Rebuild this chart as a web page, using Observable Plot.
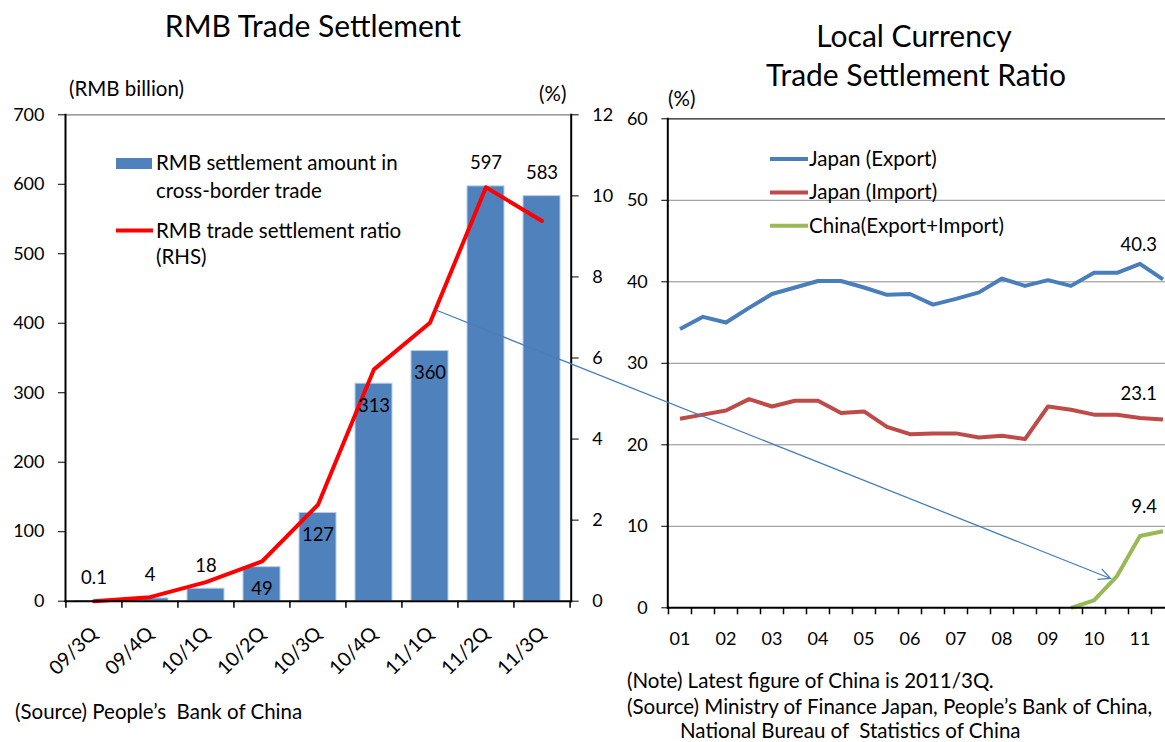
<!DOCTYPE html>
<html><head><meta charset="utf-8">
<script src="https://cdn.jsdelivr.net/npm/d3@7"></script>
<script src="https://cdn.jsdelivr.net/npm/@observablehq/plot@0.6"></script>
<style>
html,body{margin:0;padding:0;background:#fff;overflow:hidden}
#wrap{position:relative;width:1165px;height:742px;overflow:hidden;font-family:Lato,'Open Sans',sans-serif}
#wrap > svg{position:absolute;top:0}
#wrap text{white-space:pre}
</style></head><body><div id="wrap"></div>
<script>
// ---------- data: left panel ----------
const quarters = ["09/3Q","09/4Q","10/1Q","10/2Q","10/3Q","10/4Q","11/1Q","11/2Q","11/3Q"];
const amounts  = [0.1, 4, 18, 49, 127, 313, 360, 597, 583];          // RMB billion
const ratios   = [0.0, 0.1, 0.47, 0.98, 2.38, 5.72, 6.87, 10.21, 9.38]; // % (RHS)
const amountTicks = [0,100,200,300,400,500,600,700];
const ratioTicks  = [0,2,4,6,8,10,12];

// ---------- data: right panel ----------
const halfYears = ["2001H1","2001H2","2002H1","2002H2","2003H1","2003H2","2004H1","2004H2",
  "2005H1","2005H2","2006H1","2006H2","2007H1","2007H2","2008H1","2008H2",
  "2009H1","2009H2","2010H1","2010H2","2011H1","2011H2"];
const yearTicks  = ["2001H1","2002H1","2003H1","2004H1","2005H1","2006H1","2007H1","2008H1","2009H1","2010H1","2011H1"];
const yearLabels = ["01","02","03","04","05","06","07","08","09","10","11"];
const japanExport = [34.2,35.7,35.0,36.8,38.5,39.3,40.1,40.1,39.3,38.4,38.5,37.2,37.9,38.7,40.4,39.5,40.2,39.5,41.1,41.1,42.2,40.3];
const japanImport = [23.2,23.7,24.2,25.6,24.7,25.4,25.4,23.9,24.1,22.2,21.3,21.4,21.4,20.9,21.1,20.7,24.7,24.3,23.7,23.7,23.3,23.1];
const chinaTotal  = [null,null,null,null,null,null,null,null,null,null,null,null,null,null,null,null,null,0.0,0.9,3.9,8.8,9.4];
const pctTicks = [0,10,20,30,40,50,60];
const seriesNames = ["Japan (Export)","Japan (Import)","China(Export+Import)"];

// ---------- build ----------
const FONT = "Lato, 'Open Sans', sans-serif";
const TXT = 20.5; // word text size
const wrap = document.getElementById("wrap");
const k = 700 / 12; // RHS -> LHS units

const barData = quarters.map((q, i) => ({q, amount: amounts[i], ratio: ratios[i]}));
const L = {w: 640, h: 690, ml: 65, mr: 69.3, mt: 114.3, mb: 89.3};
const lStep = (L.w - L.ml - L.mr) / quarters.length;
const inside = d => d.amount >= 40 && d.amount < 400;

const left = Plot.plot({
  width: L.w, height: L.h,
  marginLeft: L.ml, marginRight: L.mr, marginTop: L.mt, marginBottom: L.mb,
  style: {fontFamily: FONT, fontSize: "18px", background: "transparent", color: "#000", overflow: "visible"},
  x: {type: "band", domain: quarters, paddingInner: 0.34, paddingOuter: 0.17, label: null},
  y: {domain: [0, 700], label: null},
  marks: [
    Plot.ruleY([700], {stroke: "#7f7f7f", strokeWidth: 1.2}),
    Plot.barY(barData, {x: "q", y: "amount", fill: "#4F81BD", stroke: "#B9CDE5", strokeWidth: 1}),
    Plot.line(barData, {x: "q", y: d => d.ratio * k, stroke: "#FF0000", strokeWidth: 4, strokeLinejoin: "round"}),
    Plot.text(barData.filter(d => !inside(d)), {x: "q", y: "amount", text: d => String(d.amount), dy: -23, fontSize: 18.5, fill: "#000"}),
    Plot.text(barData.filter(inside), {x: "q", y: "amount", text: d => String(d.amount), dy: 22, fontSize: 18.5, fill: "#000"}),
    Plot.axisY({ticks: amountTicks, anchor: "left", tickSize: 7, tickPadding: 14, tickFormat: d => d, label: null}),
    Plot.axisY({ticks: ratioTicks.map(v => v * k), anchor: "right", tickSize: 7, tickPadding: 14, tickFormat: v => Math.round(v / k), label: null}),
    Plot.axisX({tickRotate: -45, tickSize: 0, tickPadding: 29, fontSize: 19.5, label: null}),
    Plot.ruleX(quarters, {x: d => d, dx: -lStep / 2, y1: 0, y2: 0, insetBottom: -7, stroke: "#000", strokeWidth: 1.5}),
    Plot.ruleX(quarters.slice(-1), {x: d => d, dx: lStep / 2, y1: 0, y2: 0, insetBottom: -7, stroke: "#000", strokeWidth: 1.5}),
    Plot.frame({anchor: "left", stroke: "#000", strokeWidth: 2}),
    Plot.frame({anchor: "right", stroke: "#000", strokeWidth: 2}),
    Plot.frame({anchor: "bottom", stroke: "#000", strokeWidth: 2})
  ]
});
left.style.left = "0px";
wrap.appendChild(left);

// right panel
const colors = ["#4A7EBB", "#BE4B48", "#98B954"];
const seriesValues = [japanExport, japanImport, chinaTotal];
const rows = seriesValues.map(vals => halfYears.map((p, i) => ({p, v: vals[i]})));
const R = {w: 580, h: 690, ml: 67.3, mt: 118.3, mb: 82.7};
const rStep = 23.02;
R.mr = R.w - R.ml - halfYears.length * rStep;
const labelDy = [-34, -25, -24];

const right = Plot.plot({
  width: R.w, height: R.h,
  marginLeft: R.ml, marginRight: R.mr, marginTop: R.mt, marginBottom: R.mb,
  style: {fontFamily: FONT, fontSize: "18px", background: "transparent", color: "#000", overflow: "visible"},
  x: {type: "band", domain: halfYears, padding: 0, label: null},
  y: {domain: [0, 60], label: null},
  marks: [
    Plot.gridY({ticks: [10, 20, 30, 40, 50], stroke: "#8c8c8c", strokeOpacity: 1, strokeWidth: 1}),
    Plot.ruleY([60], {stroke: "#1a1a1a", strokeWidth: 1.3}),
    ...rows.map((r, s) => Plot.line(r, {x: "p", y: "v", stroke: colors[s], strokeWidth: 4, strokeLinejoin: "round", strokeLinecap: "butt"})),
    ...rows.map((r, s) => Plot.text(r.slice(-1), {x: "p", y: "v", text: d => d.v.toFixed(1), dx: -6, dy: labelDy[s], textAnchor: "end", fontSize: 18.5, fill: "#000"})),
    Plot.axisY({ticks: pctTicks, tickSize: 6, tickPadding: 14, label: null}),
    Plot.axisX({ticks: yearTicks, tickFormat: d => yearLabels[yearTicks.indexOf(d)], tickSize: 0, tickPadding: 24, label: null}),
    Plot.ruleX(halfYears, {x: d => d, dx: -rStep / 2, y1: 0, y2: 0, insetBottom: -7, stroke: "#000", strokeWidth: 1.5}),
    Plot.frame({anchor: "left", stroke: "#000", strokeWidth: 2}),
    Plot.frame({anchor: "bottom", stroke: "#000", strokeWidth: 2})
  ]
});
const RX = 600;
right.style.left = RX + "px";
wrap.appendChild(right);

// ---------- overlay: titles, legends, notes, arrow ----------
const ov = d3.select(wrap).append("svg")
  .attr("width", 1165).attr("height", 742)
  .style("left", "0px").style("pointer-events", "none")
  .style("font-family", FONT);

function txt(x, y, s, size, anchor) {
  ov.append("text").attr("x", x).attr("y", y).attr("font-size", size)
    .attr("text-anchor", anchor || "start").attr("fill", "#000")
    .attr("xml:space", "preserve").style("white-space", "pre").text(s);
}
txt(313, 36.5, "RMB Trade Settlement", 30, "middle");
txt(914, 46.5, "Local Currency", 30, "middle");
txt(916, 86, "Trade Settlement Ratio", 30, "middle");
txt(69, 96, "(RMB billion)", TXT);
txt(539, 101, "(%)", TXT);
txt(668, 106, "(%)", TXT);

// left legend
ov.append("rect").attr("x", 116).attr("y", 158).attr("width", 36).attr("height", 11).attr("fill", "#4F81BD");
txt(156, 170, "RMB settlement amount in", TXT);
txt(156, 197.5, "cross-border trade", TXT);
ov.append("line").attr("x1", 116).attr("x2", 153).attr("y1", 230.5).attr("y2", 230.5).attr("stroke", "#FF0000").attr("stroke-width", 4);
txt(156, 237.5, "RMB trade settlement ratio", TXT);
txt(156, 264, "(RHS)", TXT);

// right legend
seriesNames.forEach((n, i) => {
  const y = 159 + i * 33.4;
  ov.append("line").attr("x1", 770).attr("x2", 808).attr("y1", y).attr("y2", y).attr("stroke", colors[i]).attr("stroke-width", 4);
  txt(809, y + 7, n, TXT);
});

// notes
txt(15, 719, "(Source) People\u2019s  Bank of China", TXT);
txt(627, 688, "(Note) Latest figure of China is 2011/3Q.", TXT);
txt(627, 714, "(Source) Ministry of Finance Japan, People\u2019s Bank of China,", TXT);
txt(680, 738, "National Bureau of  Statistics of China", TXT);

// arrow from the 11/1Q ratio point (left) to China 2010H2 (right), via the library scales
const lx = left.scale("x"), ly = left.scale("y");
const rx = right.scale("x"), ry = right.scale("y");
const iQ = quarters.indexOf("11/1Q");
const x0 = lx.apply("11/1Q") + lx.bandwidth / 2 + 7;
const y0 = ly.apply(ratios[iQ] * k) - 12;
const iH = halfYears.indexOf("2010H2");
const x1 = RX + rx.apply("2010H2") + rx.bandwidth / 2 - 6;
const y1 = ry.apply(chinaTotal[iH]) + 3;
const ang = Math.atan2(y1 - y0, x1 - x0);
ov.append("line").attr("x1", x0).attr("y1", y0).attr("x2", x1).attr("y2", y1)
  .attr("stroke", "#4A7EBB").attr("stroke-width", 1.3);
const hl = 13, ha = 0.45;
ov.append("path")
  .attr("d", `M${x1 - hl * Math.cos(ang - ha)},${y1 - hl * Math.sin(ang - ha)}L${x1},${y1}L${x1 - hl * Math.cos(ang + ha)},${y1 - hl * Math.sin(ang + ha)}`)
  .attr("fill", "none").attr("stroke", "#4A7EBB").attr("stroke-width", 1.3);
</script></body></html>
